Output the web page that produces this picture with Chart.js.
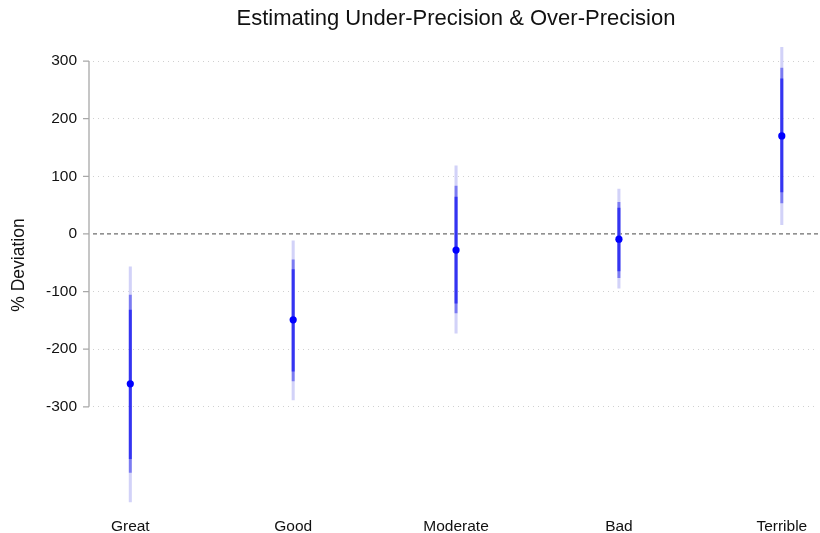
<!DOCTYPE html>
<html>
<head>
<meta charset="utf-8">
<script src="https://cdn.jsdelivr.net/npm/chart.js@4/dist/chart.umd.min.js"></script>
<style>
  html, body { margin: 0; padding: 0; background: #ffffff; }
  #wrap { width: 820px; height: 533px; }
</style>
</head>
<body>
<div id="wrap"><canvas id="chart"></canvas></div>
<script>
// Categories and estimates
var categories = ['Great', 'Good', 'Moderate', 'Bad', 'Terrible'];
var estimate = [-260, -149, -28, -9, 170];

// Interval bounds (outer, middle, inner)
var lo95 = [-465, -288, -172, -94, 16];
var hi95 = [-57, -12, 118, 78, 324];
var lo90 = [-414, -255, -137, -76, 54];
var hi90 = [-106, -45, 83, 55, 288];
var lo80 = [-390, -238, -120, -64, 73];
var hi80 = [-132, -62, 64, 45, 269];

// Y tick labels
var yTicks = [-300, -200, -100, 0, 100, 200, 300];

var chartTitle = 'Estimating Under-Precision & Over-Precision';
var yTitle = '% Deviation';

var fontFamily = '"Liberation Sans", Arial, sans-serif';

function intervals(lo, hi) {
    return categories.map(function(c, i) {
        return { x: i, y: [lo[i], hi[i]] };
    });
}

function points() {
    return categories.map(function(c, i) {
        return { x: i, y: estimate[i] };
    });
}

// Axis line, ticks, zero line and titles
var decorPlugin = {
    id: 'decor',
    beforeDatasetsDraw: function(chart) {
        var ctx = chart.ctx;
        var y = chart.scales.y;
        var area = chart.chartArea;
        var top = y.getPixelForValue(yTicks[yTicks.length - 1]);
        var bottom = y.getPixelForValue(yTicks[0]);
        var ax = area.left - 4;
        ctx.save();
        ctx.strokeStyle = '#a8a8a8';
        ctx.lineWidth = 1.3;
        ctx.beginPath();
        ctx.moveTo(ax, top);
        ctx.lineTo(ax, bottom);
        yTicks.forEach(function(v) {
            var py = y.getPixelForValue(v);
            ctx.moveTo(ax - 6, py);
            ctx.lineTo(ax, py);
        });
        ctx.stroke();

        // zero reference line
        var zy = y.getPixelForValue(0);
        ctx.strokeStyle = '#6e6e6e';
        ctx.lineWidth = 1.2;
        ctx.setLineDash([4, 3]);
        ctx.beginPath();
        ctx.moveTo(area.left, zy);
        ctx.lineTo(820, zy);
        ctx.stroke();
        ctx.restore();
    },
    afterDraw: function(chart) {
        var ctx = chart.ctx;
        var area = chart.chartArea;
        ctx.save();
        ctx.fillStyle = '#111111';
        ctx.font = '22px ' + fontFamily;
        ctx.textAlign = 'center';
        ctx.textBaseline = 'middle';
        ctx.fillText(chartTitle, 456, 19);

        ctx.font = '17.5px ' + fontFamily;
        ctx.translate(19, 265);
        ctx.rotate(-Math.PI / 2);
        ctx.fillText(yTitle, 0, 0);
        ctx.restore();
    }
};

var ctx = document.getElementById('chart').getContext('2d');
var chart = new Chart(ctx, {
    type: 'bar',
    data: {
        datasets: [{
            type: 'scatter',
            label: 'Estimate',
            data: points(),
            backgroundColor: '#0000ff',
            borderColor: '#0000ff',
            pointRadius: 3.6,
            pointBorderWidth: 0,
            order: 0
        }, {
            label: 'inner',
            data: intervals(lo80, hi80),
            backgroundColor: '#3434f2',
            barThickness: 2.2,
            grouped: false,
            order: 1
        }, {
            label: 'middle',
            data: intervals(lo90, hi90),
            backgroundColor: '#7b7bf2',
            barThickness: 2.2,
            grouped: false,
            order: 2
        }, {
            label: 'outer',
            data: intervals(lo95, hi95),
            backgroundColor: '#d2d2f8',
            barThickness: 2.4,
            grouped: false,
            order: 3
        }]
    },
    options: {
        responsive: true,
        maintainAspectRatio: false,
        animation: false,
        layout: {
            padding: { top: 38, right: 0, bottom: 0, left: 0 }
        },
        plugins: {
            legend: { display: false },
            tooltip: { enabled: false },
            title: { display: false }
        },
        scales: {
            x: {
                type: 'linear',
                offset: false,
                min: -0.229,
                max: 4.21,
                afterBuildTicks: function(scale) {
                    scale.ticks = categories.map(function(c, i) { return { value: i }; });
                },
                afterFit: function(scale) {
                    scale.height = 25;
                },
                grid: { display: false, drawTicks: false },
                border: { display: false },
                ticks: {
                    padding: 10,
                    color: '#111111',
                    font: { family: fontFamily, size: 15.5 },
                    callback: function(value) {
                        return categories[value];
                    }
                }
            },
            y: {
                min: -475,
                max: 340,
                afterBuildTicks: function(scale) {
                    scale.ticks = yTicks.map(function(v) { return { value: v }; });
                },
                afterFit: function(scale) {
                    scale.width = 93;
                },
                grid: {
                    color: function(c) {
                        return c.tick && c.tick.value === 0 ? 'rgba(0,0,0,0)' : '#d0d0d0';
                    },
                    lineWidth: 1,
                    drawTicks: false
                },
                border: { display: false, dash: [1, 4] },
                ticks: {
                    padding: 16,
                    color: '#111111',
                    font: { family: fontFamily, size: 15.5 }
                }
            }
        }
    },
    plugins: [decorPlugin]
});
</script>
</body>
</html>
